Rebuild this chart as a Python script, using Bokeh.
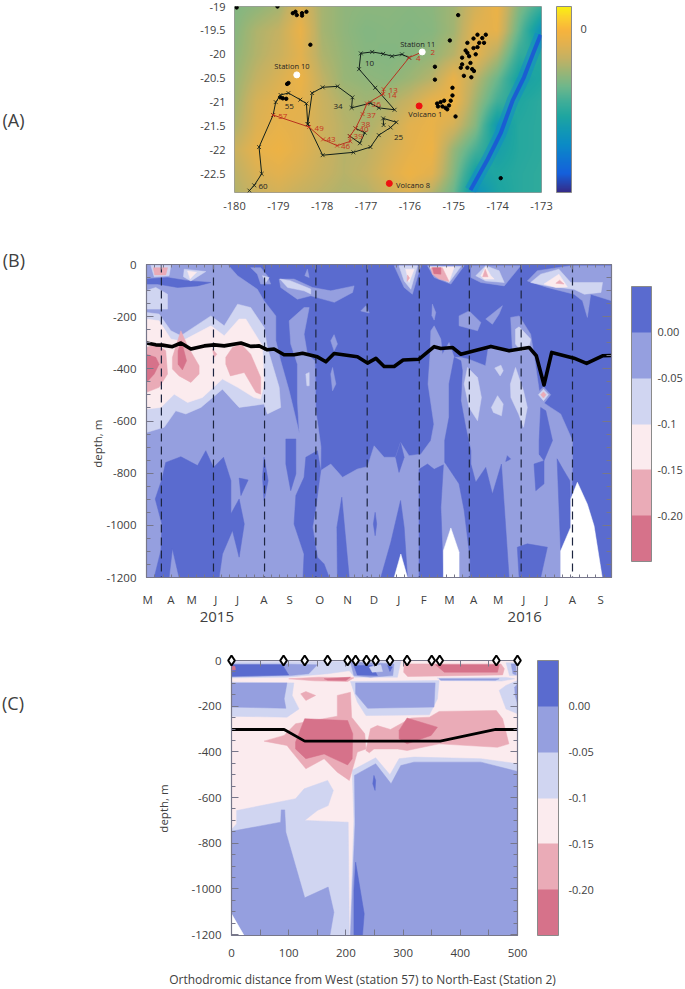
import numpy as np
from bokeh.core.properties import value
from bokeh.embed import file_html
from bokeh.resources import INLINE
from bokeh.layouts import column
from bokeh.models import (ColorBar, FixedTicker, LinearAxis, LinearColorMapper, Range1d)
from bokeh.plotting import figure

# ---------------- shared classes ----------------
BAND_COLORS = ["#D6728A", "#EAABB7", "#FBEBEE", "#D0D5F1", "#959FDF", "#5A6BCF"]
C_RED, C_PINK, C_PALE, C_LIGHT, C_MED, C_DARK = BAND_COLORS
BAND_TICKS = [-0.2, -0.15, -0.1, -0.05, 0.0]
BAND_LABELS = ["-0.20", "-0.15", "-0.1", "-0.05", "0.00"]

# ---------------- panel A data ----------------
A_LON = [-180, -179.5, -179, -178.5, -178, -177.5, -177, -176.5, -176, -175.5, -175, -174.5, -174, -173.5, -173]
A_LAT = [-19, -19.5, -20, -20.5, -21, -21.5, -22, -22.5, -22.9]
A_DEPTH = [
    [-3500, -3200, -2700, -1200, -2700, -3200, -3300, -3300, -3400, -3300, -2800, -1500, -600, -3500, -5200],
    [-3400, -2500, -2000, -700, -2700, -3200, -3500, -3400, -3500, -3400, -2800, -1000, -800, -4200, -7500],
    [-3200, -2400, -1800, -1000, -2500, -3100, -3400, -3500, -3400, -3100, -2300, -900, -2400, -5300, -6000],
    [-3000, -2000, -1300, -600, -2100, -3000, -3200, -3300, -2900, -2300, -700, -2200, -4000, -6500, -6000],
    [-2800, -1400, -900, -900, -1800, -2500, -2800, -2500, -1800, -700, -500, -2800, -5000, -6000, -5600],
    [-2500, -1200, -800, -1000, -1700, -2300, -2600, -2000, -1000, -700, -1500, -3400, -7000, -5800, -5600],
    [-1800, -800, -500, -1000, -1700, -2300, -2200, -1500, -900, -500, -3000, -4800, -6500, -5800, -5600],
    [-2200, -1300, -1000, -1400, -1900, -2300, -2000, -1200, -500, -1000, -3400, -6500, -6000, -5700, -5500],
    [-2400, -1800, -1500, -1900, -2200, -2500, -2400, -1700, -1200, -2300, -4000, -7500, -6200, -5700, -5500],
]
A_RAMP_LEVELS = [-11310, -10000, -9000, -8000, -7000, -6000, -5000, -4000, -3000, -2000, -1000, 0, 800, 1586]
A_RAMP_COLORS = ["#352A87", "#1560DC", "#0F75D2", "#0B8BC6", "#1298B4", "#1FA6A0", "#40AE98", "#6DB78C", "#98B577", "#C4B163",
                 "#E2B14F", "#F8B43C", "#FBCF2E", "#F9F011"]
TRENCH_LON = [-173.02, -173.17, -173.40, -173.66, -173.93, -174.23, -174.62]
TRENCH_LAT = [-19.59, -19.93, -20.48, -20.97, -21.65, -22.20, -22.84]
BLACK_LEGS = [
    [(-176.02, -20.07), (-176.18, -20.00), (-176.41, -20.04), (-176.61, -19.99), (-176.86, -19.95), (-177.12, -19.98),
     (-177.16, -20.31), (-176.79, -20.70), (-176.35, -21.16), (-176.71, -21.12), (-176.90, -21.02), (-177.33, -21.12),
     (-177.31, -20.90), (-177.65, -20.67), (-177.99, -20.69), (-178.23, -20.81), (-178.33, -21.46), (-177.99, -22.11),
     (-177.29, -22.05), (-176.90, -21.94), (-176.71, -21.69), (-176.44, -21.53), (-176.31, -21.42), (-176.61, -21.34),
     (-176.60, -21.48)],
    [(-178.33, -21.46), (-178.36, -21.03), (-178.50, -20.95), (-178.77, -20.81), (-178.95, -20.85), (-179.06, -21.00),
     (-179.12, -21.27), (-179.44, -21.94), (-179.38, -22.50), (-179.55, -22.74), (-179.66, -22.85)],
    [(-177.24, -21.55), (-177.03, -21.64), (-177.14, -21.86), (-177.37, -21.71)],
]
RED_LEG = [(-175.72, -19.95), (-176.02, -20.07), (-176.60, -20.73), (-176.61, -20.83), (-176.98, -21.03), (-177.08, -21.25),
           (-177.24, -21.55), (-177.37, -21.71), (-177.36, -21.82), (-177.66, -21.91), (-177.98, -21.78), (-178.30, -21.52),
           (-179.12, -21.27)]
BLACK_TAGS = [("10", -176.92, -20.20), ("34", -177.64, -21.10), ("55", -178.75, -21.09), ("25", -176.26, -21.74), ("60", -179.35, -22.77)]
RED_TAGS = [("2", -175.48, -19.96), ("4", -175.81, -20.09), ("13", -176.38, -20.75), ("14", -176.41, -20.86), ("36", -176.77, -21.05),
            ("37", -176.88, -21.29), ("38", -177.01, -21.46), ("40", -177.05, -21.57), ("39", -177.18, -21.72), ("43", -177.80, -21.79),
            ("46", -177.47, -21.93), ("49", -178.07, -21.55), ("57", -178.90, -21.31)]
SITE_TAGS = [("Station 11", -175.82, -19.78), ("Station 10", -178.69, -20.25), ("Volcano 1", -175.65, -21.24), ("Volcano 8", -175.93, -22.73)]
VOLCANO_LON, VOLCANO_LAT = [-175.79, -176.47], [-21.08, -22.70]
STATION_LON, STATION_LAT = [-178.58, -175.72], [-20.43, -19.95]
ISLANDS = [(-179.95, -19.02), (-179.02, -19.0), (-178.61, -19.11), (-178.67, -19.14), (-178.58, -19.18), (-178.46, -19.14), (-178.36, -19.11),
           (-178.46, -19.19), (-178.27, -19.80), (-174.90, -19.18), (-175.09, -19.71), (-175.43, -20.26), (-175.43, -20.53), (-178.77, -20.60),
           (-178.80, -20.62), (-178.96, -20.90), (-178.90, -20.92), (-178.82, -20.93), (-174.69, -19.76), (-174.55, -19.67), (-174.46, -19.59),
           (-174.35, -19.66), (-174.31, -19.76), (-174.42, -19.76), (-174.27, -19.59), (-174.73, -19.92), (-174.69, -19.97), (-174.65, -20.04),
           (-174.81, -20.07), (-174.55, -19.87), (-174.46, -19.85), (-174.81, -20.21), (-174.62, -20.18), (-174.69, -20.28), (-174.58, -20.31),
           (-174.84, -20.28), (-174.77, -20.45), (-174.60, -20.48), (-174.54, -20.35), (-174.50, -20.00), (-175.38, -21.03), (-175.30, -21.00),
           (-175.26, -21.09), (-175.19, -21.12), (-175.11, -21.07), (-175.22, -20.97), (-175.07, -20.97), (-175.03, -20.86), (-175.03, -20.70),
           (-174.96, -21.30), (-175.15, -21.15), (-175.36, -21.09), (-173.93, -22.59)]

# ---------------- panel B data: time in months from March 2015, depth in m ----------------
B_MONTH_POS = [0.05, 0.95, 1.76, 2.7, 3.55, 4.57, 5.58, 6.75, 7.84, 8.86, 9.83, 10.8, 11.8, 12.75, 13.7, 14.7, 15.6, 16.6, 17.7]
B_MONTH_LAB = ["M", "A", "M", "J", "J", "A", "S", "O", "N", "D", "J", "F", "M", "A", "M", "J", "J", "A", "S"]
B_DASHES = [0.58, 2.61, 4.6, 6.6, 8.6, 10.63, 12.58, 14.6, 16.6]
B_LINE_T = [0, .36, .62, 1.01, 1.34, 1.73, 2.25, 2.64, 3.03, 3.68, 4.06, 4.39, 4.71, 4.97, 5.36, 5.75, 6.08, 6.66, 6.99, 7.31, 8.22, 8.61, 8.94,
            9.26, 9.65, 10.0, 10.62, 11.21, 11.47, 11.92, 12.25, 13.42, 14.13, 14.91, 15.19, 15.49, 15.79, 16.66, 17.15, 17.77, 18.12]
B_LINE_D = [-301, -308, -309, -315, -301, -324, -312, -308, -312, -301, -314, -312, -327, -324, -346, -346, -340, -354, -373, -341, -354, -378, -360,
            -391, -391, -366, -363, -315, -322, -318, -344, -314, -331, -318, -350, -462, -337, -359, -379, -350, -349]
B_MED_MAIN = [[(0, 0), (3.16, 0), (3.55, -43), (4.32, -95), (4.58, -139), (5.04, -197), (5.04, -292), (5.23, -369), (5.56, -484), (5.95, -644),
               (5.88, -522), (5.88, -382), (5.62, -305), (5.56, -216), (6.14, -165), (6.34, -165), (6.14, -267), (6.27, -344), (6.56, -369),
               (6.6, -560), (6.8, -700), (6.79, -790), (7.18, -765), (7.64, -816), (8.22, -784), (8.61, -775), (8.87, -695), (9.26, -739),
               (9.71, -739), (9.9, -682), (10.23, -733), (10.69, -727), (11.08, -675), (11.2, -612), (10.97, -458), (11.05, -344), (11.08, -254),
               (11.21, -235), (11.47, -286), (11.53, -344), (11.79, -299), (11.99, -356), (12.23, -356), (12.56, -363), (13.21, -388), (13.31, -324),
               (13.55, -312), (14.26, -331), (14.19, -203), (14.52, -197), (14.97, -267), (15.1, -344), (15.23, -433), (15.36, -522), (15.75, -548),
               (16.14, -573), (16.6, -675), (16.6, -765), (16.57, -854), (16.14, -1200), (0, -1200)]]
B_DARK = [[(0, -56), (.82, -50), (1.6, -62), (2.51, -69), (1.99, -82), (1.21, -88), (.43, -75), (0, -75)],
          [(.34, -899), (.6, -823), (.75, -759), (1.34, -737), (1.99, -771), (2.31, -714), (2.61, -778), (3.0, -739), (3.29, -829), (3.29, -956),
           (3.61, -899), (3.81, -995), (3.61, -1122), (3.35, -1020), (2.96, -1110), (2.83, -1200), (1.27, -1200), (1.01, -1090), (.88, -1200),
           (.3, -1200), (.56, -1097), (.6, -995)],
          [(3.61, -819), (3.96, -826), (3.68, -886)],
          [(4.58, -739), (4.74, -829), (4.58, -905), (4.52, -816)],
          [(5.43, -669), (5.82, -669), (5.82, -803), (5.62, -867), (5.43, -765)],
          [(6.66, -714), (6.21, -739), (6.14, -816), (5.82, -886), (5.75, -995), (6.14, -1110), (6.1, -1200), (7.12, -1200), (6.92, -1148),
           (6.66, -1122), (6.47, -1007), (6.6, -931), (6.79, -790)],
          [(7.44, -1200), (7.42, -1007), (7.61, -892), (7.9, -1200)],
          [(8.91, -950), (8.97, -995), (8.91, -1040), (8.84, -995)],
          [(9.9, -905), (10.04, -1007), (10.17, -1200), (9.13, -1200), (9.52, -1065)],
          [(9.9, -682), (9.71, -739), (9.84, -797), (10.04, -739)],
          [(10.62, -785), (10.95, -765), (11.21, -785), (11.57, -768), (11.47, -931), (11.57, -1200), (10.62, -1200)],
          [(11.99, -356), (12.25, -369), (12.31, -407), (12.25, -522), (12.44, -624), (12.64, -714), (12.64, -765), (12.83, -835), (13.22, -778),
           (13.48, -880), (13.83, -765), (14.13, -1200), (12.61, -1200), (12.61, -1130), (12.38, -943), (12.18, -841), (11.62, -758), (11.62, -675),
           (11.79, -586), (11.79, -458)],
          [(14.45, -1084), (14.84, -1071), (15.62, -1084), (15.36, -1200), (14.52, -1200)],
          [(15.1, -765), (15.49, -752), (15.49, -841), (15.17, -867)],
          [(15.36, -548), (15.56, -561), (15.82, -675), (15.49, -752), (15.3, -727), (15.3, -675)],
          [(16.0, -745), (16.26, -790), (16.5, -829), (16.53, -1007), (16.14, -1097)],
          [(14.06, -733), (14.19, -746), (14.0, -755)]]
B_MED_BLOBS = [[(5.17, -56), (5.75, -56), (6.47, -88), (7.18, -101), (8.09, -82), (8.03, -107), (7.32, -145), (6.4, -120), (5.88, -133), (5.23, -88)],
               [(4.06, -12), (4.45, -12), (4.71, -43), (4.84, -75), (4.45, -75), (4.32, -37)],
               [(6.27, -18), (6.34, -50), (6.17, -43)],
               [(8.35, -178), (8.55, -158), (8.68, -186)],
               [(7.18, -292), (7.31, -269), (7.44, -305), (7.31, -331)],
               [(7.25, -395), (7.38, -458), (7.25, -484), (7.18, -420)],
               [(12.18, -197), (12.57, -178), (13.03, -222), (12.9, -254), (12.18, -235)],
               [(13.22, -209), (13.87, -158), (13.74, -190), (13.48, -229)],
               [(11.14, -152), (11.27, -184), (11.21, -213), (11.12, -196)],
               [(9.65, -5), (10.69, -5), (10.36, -114), (10.04, -88)],
               [(10.95, -5), (12.38, -5), (11.86, -75), (11.21, -50)],
               [(12.64, -5), (14.58, -5), (13.94, -82), (13.03, -69), (12.64, -50)],
               [(14.84, -63), (15.23, -24), (16.01, -12), (16.53, -5), (18.12, -5), (18.12, -139), (17.31, -114), (17.18, -203), (16.99, -139),
                (16.66, -114), (15.62, -88)],
               [(15.17, -499), (15.47, -469), (15.75, -499), (15.47, -535)]]
B_LIGHT = [[(0, -184), (.49, -190), (.95, -254), (1.34, -273), (2.51, -197), (3.03, -235), (3.55, -152), (4.06, -165), (4.58, -241), (4.71, -318),
            (5.17, -471), (5.23, -548), (4.71, -573), (4.58, -535), (3.61, -548), (2.96, -478), (2.12, -548), (1.53, -573), (1.14, -561), (.69, -624), (0, -644)],
           [(.36, -88), (.82, -114), (.82, -171), (.49, -171), (0, -171), (0, -100)],
           [(.17, -4), (.95, -4), (.88, -43), (.3, -47)],
           [(1.47, -18), (2.31, -27), (1.73, -63), (1.44, -47)],
           [(5.2, -56), (5.6, -62), (6.4, -94), (6.4, -113), (6.14, -101), (5.5, -88)],
           [(4.52, -43), (4.78, -50), (4.65, -69)],
           [(9.84, -5), (10.56, -5), (10.3, -95), (10.04, -63)],
           [(11.0, -8), (12.25, -8), (11.79, -69), (11.27, -43)],
           [(12.83, -43), (13.22, -5), (13.74, -24), (13.94, -69), (13.22, -63)],
           [(14.97, -69), (15.36, -37), (16.07, -18), (16.53, -69), (17.77, -69), (17.71, -107), (17.06, -114), (16.66, -95), (15.62, -82)],
           [(15.27, -499), (15.47, -478), (15.66, -499), (15.47, -522)],
           [(12.38, -458), (12.51, -395), (12.9, -433), (13.05, -510), (12.9, -599), (12.57, -548)],
           [(14.18, -458), (14.38, -395), (14.69, -484), (14.84, -548), (14.69, -624), (14.5, -573), (14.2, -510)],
           [(13.44, -548), (13.68, -503), (13.9, -535), (13.83, -580), (13.52, -567)],
           [(13.57, -397), (13.81, -386), (13.9, -407), (13.78, -427)],
           [(14.38, -248), (14.52, -239), (14.97, -286), (14.9, -324), (14.58, -331), (14.38, -305)],
           [(6.21, -420), (6.34, -414), (6.34, -465), (6.25, -465)]]
B_PALE = [[(0, -209), (.49, -216), (.95, -286), (1.27, -292), (1.53, -286), (2.51, -235), (3.03, -273), (3.61, -209), (3.87, -209), (4.52, -312),
           (4.58, -458), (4.45, -516), (4.19, -510), (3.55, -471), (2.96, -439), (2.18, -510), (1.6, -529), (1.08, -497), (.56, -548), (0, -554)],
          [(1.6, -25), (1.95, -30), (1.7, -55)],
          [(10.1, -18), (10.43, -18), (10.23, -69)],
          [(11.04, -10), (11.99, -10), (11.79, -65), (11.34, -38)],
          [(13.03, -43), (13.22, -9), (13.42, -43), (13.55, -56), (13.16, -56)],
          [(15.49, -75), (16.07, -37), (16.4, -86), (15.95, -88)]]
B_PINK = [[(0, -318), (.36, -305), (.75, -331), (.82, -420), (.49, -471), (0, -490)],
          [(1.01, -356), (1.34, -254), (1.6, -312), (2.05, -388), (2.05, -420), (1.73, -452), (1.27, -427), (1.01, -401)],
          [(3.09, -356), (3.35, -318), (3.68, -305), (4.06, -344), (4.45, -433), (4.45, -497), (4.26, -490), (3.81, -414), (3.27, -427), (3.09, -382)],
          [(2.57, -324), (2.74, -344), (2.64, -356)],
          [(.26, -12), (.82, -12), (.75, -40), (.32, -40)],
          [(10.17, -40), (10.25, -52), (10.15, -65)],
          [(11.08, -12), (11.53, -12), (11.79, -65), (11.4, -56), (11.14, -37)],
          [(13.1, -47), (13.2, -18), (13.31, -47)],
          [(15.95, -72), (16.1, -60), (16.27, -75)],
          [(15.36, -499), (15.47, -488), (15.57, -499), (15.47, -512)]]
B_RED = [[(0, -344), (.36, -356), (.49, -382), (.3, -420), (0, -452)],
         [(1.23, -331), (1.36, -292), (1.56, -369), (1.4, -404), (1.23, -382)],
         [(11.14, -12), (11.47, -12), (11.47, -37), (11.2, -35)]]
B_BLANK = [[(9.65, -1200), (9.91, -1110), (10.17, -1200)],
           [(11.57, -1097), (11.86, -1010), (12.18, -1103), (12.18, -1200), (11.57, -1200)],
           [(16.14, -1097), (16.53, -1007), (16.53, -899), (16.79, -835), (17.18, -919), (17.44, -1002), (17.76, -1200), (16.14, -1200)]]

# ---------------- panel C data: distance in km, depth in m ----------------
C_STATIONS = [0, 91, 128, 168, 203, 217, 236, 252, 277, 307, 350, 364, 463, 500]
C_LINE_X = [0, 92, 128, 365, 462, 500]
C_LINE_D = [-302, -302, -353, -353, -302, -302]
C_LIGHT_P = [[(0, -4), (208, -4), (208, -44), (168, -58), (97, -73), (0, -76)],
             [(206, -4), (296, -4), (290, -73), (215, -73), (206, -44)],
             [(480, -10), (498, -10), (498, -66), (486, -66)],
             [(360, -77), (480, -74), (495, -80), (472, -90), (366, -88)],
             [(0, -95), (109, -98), (106, -153), (118, -212), (97, -248), (0, -244)],
             [(208, -92), (363, -88), (360, -168), (346, -238), (235, -241), (220, -182)],
             [(480, -109), (500, -88), (500, -233), (480, -212), (468, -131)],
             [(211, -481), (252, -426), (277, -500), (293, -430), (319, -423), (436, -430), (500, -452), (500, -1204), (207, -1204), (214, -700)],
             [(9, -657), (112, -605), (127, -562), (168, -525), (178, -569), (169, -635), (150, -657), (128, -700), (204, -708), (206, -1204), (0, -1204), (0, -740), (9, -715)]]
C_MED_P = [[(0, -15), (86, -15), (150, -19), (135, -58), (103, -66), (0, -72)],
           [(208, -7), (284, -15), (282, -66), (243, -73), (214, -66)],
           [(489, -15), (497, -15), (498, -63), (492, -58)],
           [(363, -80), (468, -80), (462, -86), (366, -86)],
           [(0, -98), (97, -98), (92, -168), (95, -209), (0, -204)],
           [(217, -98), (356, -98), (354, -204), (238, -209), (217, -146)],
           [(495, -117), (500, -102), (500, -190), (496, -153)],
           [(215, -503), (252, -452), (279, -540), (296, -460), (319, -445), (436, -445), (500, -486), (500, -1204), (208, -1204), (216, -715)],
           [(0, -748), (86, -708), (87, -654), (93, -654), (95, -752), (128, -1039), (169, -992), (179, -1102), (172, -1204), (22, -1204), (0, -1109)]]
C_DARK_P = [[(0, -19), (89, -19), (100, -63), (0, -69)],
            [(214, -22), (246, -22), (255, -66), (220, -63)],
            [(273, -22), (281, -29), (277, -48)],
            [(217, -883), (232, -1109), (229, -1204), (214, -1204), (214, -1007)],
            [(249, -503), (252, -525), (251, -569), (247, -540)]]
C_LIGHT_TOP = [[(241, -29), (261, -19), (264, -48), (246, -51)]]
C_PINK_P = [[(302, -15), (471, -15), (477, -36), (474, -63), (308, -70), (301, -51)],
            [(100, -80), (153, -73), (214, -76), (203, -92), (144, -89)],
            [(57, -353), (92, -328), (112, -277), (185, -244), (185, -153), (208, -139), (210, -248), (233, -321), (235, -387), (220, -401),
             (206, -525), (185, -489), (162, -430), (130, -474), (106, -401), (97, -372)],
            [(121, -146), (130, -136), (147, -153), (130, -175)],
            [(235, -394), (243, -299), (255, -285), (278, -302), (314, -252), (346, -248), (363, -223), (463, -219), (474, -255), (485, -365),
             (465, -380), (363, -365), (307, -394), (290, -387), (249, -387), (241, -404)]]
C_RED_P = [[(357, -19), (468, -19), (465, -51), (372, -51)],
           [(162, -80), (208, -73), (200, -88), (168, -86)],
           [(112, -357), (128, -255), (203, -263), (212, -321), (211, -430), (203, -457), (173, -423), (162, -409), (130, -430), (112, -387)],
           [(293, -306), (307, -252), (360, -292), (349, -328), (307, -365), (293, -343)],
           [(1, -25), (6, -25), (7, -40), (1, -42)]]
C_BLANK = [[(0, -1109), (22, -1204), (0, -1204)]]

FONT = "Open Sans"
INK = "#404040"
EDGE = "#77778a"


def split(polys):
    return [[p[0] for p in poly] for poly in polys], [[p[1] for p in poly] for poly in polys]


def fill(fig, polys, color):
    xs, ys = split(polys)
    fig.patches(xs, ys, fill_color=color, line_color=color, line_width=0.5)


def note(fig, text, x, y, size, angle=0.0, color=INK):
    fig.text([x], [y], text=[text], text_font=value(FONT), text_font_size=value(size), text_color=color,
             text_align="center", text_baseline="middle", angle=angle, level="overlay")


def style_tick_axis(ax, major_in, minor_in):
    ax.axis_line_color = EDGE
    ax.axis_line_width = 1.2
    ax.major_tick_line_color = EDGE
    ax.minor_tick_line_color = EDGE
    ax.major_tick_in = major_in
    ax.major_tick_out = 0
    ax.minor_tick_in = minor_in
    ax.minor_tick_out = 0
    ax.major_label_text_font = FONT
    ax.major_label_text_font_size = "11.5px"
    ax.major_label_text_color = INK


def mute_labels(ax, ticks):
    ax.major_label_overrides = {t: "" for t in ticks}
    ax.major_label_standoff = 0


def plain_labels(ax, ticks):
    ax.major_label_overrides = {t: str(t) for t in ticks}


def band_bar(fig, dx, dy, w, h, standoff):
    mapper = LinearColorMapper(palette=BAND_COLORS, low=-0.25, high=0.05)
    bar = ColorBar(color_mapper=mapper, ticker=FixedTicker(ticks=BAND_TICKS),
                   major_label_overrides=dict(zip(BAND_TICKS, BAND_LABELS)),
                   location=(dx, dy), width=w, height=h, padding=0, margin=0, label_standoff=standoff,
                   bar_line_color="#8a8a8a", major_tick_line_color=None, minor_tick_line_color=None,
                   major_label_text_font=FONT, major_label_text_font_size="11px", major_label_text_color=INK,
                   background_fill_color=None, border_line_color=None)
    fig.add_layout(bar, "center")


# ---------------- panel A ----------------
pa = figure(width=685, height=235, frame_width=307, frame_height=186, min_border_left=234, min_border_right=144,
            min_border_top=6, min_border_bottom=43, x_range=Range1d(-180, -173), y_range=Range1d(-22.89, -19),
            output_backend="svg", toolbar_location=None, outline_line_color="#9a9a9a", frame_align=False)
pa.grid.visible = False
ramp_rgb = np.array([[int(c[i:i + 2], 16) for i in (1, 3, 5)] for c in A_RAMP_COLORS], float)
ramp = ["#%02x%02x%02x" % tuple(int(round(np.interp(q, A_RAMP_LEVELS, ramp_rgb[:, k]))) for k in range(3))
        for q in np.linspace(-11310, 1586, 256)]
depth_mapper = LinearColorMapper(palette=ramp, low=-11310, high=1586)
lat_up = np.array(A_LAT[::-1], float)
grid = np.array(A_DEPTH[::-1], float)
lon_fine = np.linspace(-180, -173, 307)
lat_fine = np.linspace(-22.89, -19, 187)
by_lat = np.array([np.interp(lat_fine, lat_up, grid[:, j]) for j in range(grid.shape[1])]).T
surface = np.array([np.interp(lon_fine, A_LON, row) for row in by_lat])
pa.image(image=[surface], x=-180, y=-22.89, dw=7, dh=3.89, color_mapper=depth_mapper)
pa.line(TRENCH_LON, TRENCH_LAT, line_color="#0f85d0", line_width=12, line_alpha=0.45)
pa.line(TRENCH_LON, TRENCH_LAT, line_color="#1c50d8", line_width=4, line_alpha=0.8)
pa.scatter([p[0] for p in ISLANDS], [p[1] for p in ISLANDS], size=3.4, color="black")
for leg in BLACK_LEGS:
    lx, ly = [p[0] for p in leg], [p[1] for p in leg]
    pa.line(lx, ly, line_color="#12201a", line_width=1)
    pa.scatter(lx, ly, marker="x", size=5.5, line_color="#12201a", line_width=0.8)
rx, ry = [p[0] for p in RED_LEG], [p[1] for p in RED_LEG]
pa.line(rx, ry, line_color="#b8321f", line_width=1)
pa.scatter(rx, ry, marker="x", size=5.5, line_color="#c8321f", line_width=0.8)
pa.scatter(VOLCANO_LON, VOLCANO_LAT, size=6, color="#ee1111")
pa.scatter(STATION_LON, STATION_LAT, size=6, color="white")
for tags, col, size in ((BLACK_TAGS, "#222222", "8px"), (RED_TAGS, "#c8321f", "8px"), (SITE_TAGS, "#222222", "7.5px")):
    pa.text([t[1] for t in tags], [t[2] for t in tags], text=[t[0] for t in tags], text_color=col, text_font_size=value(size),
            text_font=value(FONT), text_align="center", text_baseline="middle")
A_XT = list(range(-180, -172))
A_YT = [-19, -19.5, -20, -20.5, -21, -21.5, -22, -22.5]
pa.xaxis.ticker = FixedTicker(ticks=A_XT)
pa.yaxis.ticker = FixedTicker(ticks=A_YT)
plain_labels(pa.xaxis[0], A_XT)
plain_labels(pa.yaxis[0], A_YT)
for ax in (pa.xaxis[0], pa.yaxis[0]):
    ax.axis_line_color = None
    ax.major_tick_line_color = None
    ax.minor_tick_line_color = None
    ax.major_label_text_font = FONT
    ax.major_label_text_font_size = "11px"
    ax.major_label_text_color = INK
    ax.major_label_standoff = 3
A_BAR_T = [0, -2000, -4000, -6000, -8000, -10000]
pa.add_layout(ColorBar(color_mapper=depth_mapper, ticker=FixedTicker(ticks=A_BAR_T),
                       major_label_overrides={t: str(t) for t in A_BAR_T},
                       location=(322, 0), width=15, height=186, padding=0, margin=0, label_standoff=9,
                       bar_line_color="#8a8a8a", major_tick_line_color=None, minor_tick_line_color=None,
                       major_label_text_font=FONT, major_label_text_font_size="11px", major_label_text_color=INK,
                       background_fill_color=None, border_line_color=None), "center")
note(pa, "(A)", -185.04, -21.37, "18px")

# ---------------- panel B ----------------
pb = figure(width=685, height=405, frame_width=465, frame_height=313, min_border_left=146, min_border_right=74,
            min_border_top=29, min_border_bottom=63, x_range=Range1d(0, 18.12), y_range=Range1d(-1200, 0),
            output_backend="svg", toolbar_location=None, outline_line_color=EDGE, background_fill_color=C_DARK, frame_align=False)
pb.grid.visible = False
fill(pb, B_MED_MAIN, C_MED)
fill(pb, B_DARK, C_DARK)
fill(pb, B_MED_BLOBS, C_MED)
fill(pb, B_LIGHT, C_LIGHT)
fill(pb, B_PALE, C_PALE)
fill(pb, B_PINK, C_PINK)
fill(pb, B_RED, C_RED)
fill(pb, B_BLANK, "white")
pb.segment(B_DASHES, [0] * len(B_DASHES), B_DASHES, [-1200] * len(B_DASHES), line_color="#1d2540", line_width=1.2, line_dash="8 5")
pb.line(B_LINE_T, B_LINE_D, line_color="black", line_width=3.6, line_join="round")
week_ticks = [k * 0.3243 for k in range(56)]
DEPTH_T = list(range(-1200, 1, 200))
DEPTH_M = list(range(-1200, 1, 50))
pb.xaxis.ticker = FixedTicker(ticks=B_MONTH_POS, minor_ticks=week_ticks)
pb.xaxis.major_label_overrides = dict(zip(B_MONTH_POS, B_MONTH_LAB))
pb.yaxis.ticker = FixedTicker(ticks=DEPTH_T, minor_ticks=DEPTH_M)
plain_labels(pb.yaxis[0], DEPTH_T)
style_tick_axis(pb.xaxis[0], 0, 3)
pb.xaxis.major_tick_line_color = None
pb.xaxis.major_label_standoff = 14
style_tick_axis(pb.yaxis[0], 7, 4)
pb.yaxis.major_label_standoff = 10
top_b = LinearAxis(ticker=FixedTicker(ticks=B_DASHES, minor_ticks=week_ticks))
style_tick_axis(top_b, 5, 3)
mute_labels(top_b, B_DASHES)
pb.add_layout(top_b, "above")
right_b = LinearAxis(ticker=FixedTicker(ticks=DEPTH_T, minor_ticks=DEPTH_M))
style_tick_axis(right_b, 9, 5)
mute_labels(right_b, DEPTH_T)
pb.add_layout(right_b, "right")
band_bar(pb, 485, 16, 20, 275, 6)
note(pb, "(B)", -5.17, 18, "18px")
note(pb, "depth, m", -1.9, -687, "11.5px", angle=np.pi / 2)
note(pb, "2015", 2.74, -1353, "15px")
note(pb, "2016", 14.74, -1353, "15px")

# ---------------- panel C ----------------
pc = figure(width=685, height=349, frame_width=286, frame_height=275, min_border_left=231, min_border_right=168,
            min_border_top=20, min_border_bottom=54, x_range=Range1d(0, 500), y_range=Range1d(-1204, 0),
            output_backend="svg", toolbar_location=None, outline_line_color=EDGE, background_fill_color=C_PALE, frame_align=False)
pc.grid.visible = False
fill(pc, C_LIGHT_P, C_LIGHT)
fill(pc, C_MED_P, C_MED)
fill(pc, C_DARK_P, C_DARK)
fill(pc, C_LIGHT_TOP, C_LIGHT)
fill(pc, C_PINK_P, C_PINK)
fill(pc, C_RED_P, C_RED)
fill(pc, C_BLANK, "white")
pc.line(C_LINE_X, C_LINE_D, line_color="black", line_width=2.8)
pc.scatter(C_STATIONS, [0] * len(C_STATIONS), marker="diamond", size=10, fill_color="white", line_color="black", line_width=2, level="overlay")
DIST_T = list(range(0, 501, 100))
DIST_M = list(range(50, 500, 100))
pc.xaxis.ticker = FixedTicker(ticks=DIST_T, minor_ticks=DIST_M)
pc.yaxis.ticker = FixedTicker(ticks=DEPTH_T, minor_ticks=DEPTH_M)
plain_labels(pc.yaxis[0], DEPTH_T)
style_tick_axis(pc.xaxis[0], 6, 6)
pc.xaxis.major_label_standoff = 13
style_tick_axis(pc.yaxis[0], 7, 4)
pc.yaxis.major_label_standoff = 10
top_c = LinearAxis(ticker=FixedTicker(ticks=DIST_T, minor_ticks=DIST_M))
style_tick_axis(top_c, 6, 6)
mute_labels(top_c, DIST_T)
pc.add_layout(top_c, "above")
right_c = LinearAxis(ticker=FixedTicker(ticks=DEPTH_T, minor_ticks=DEPTH_M))
style_tick_axis(right_c, 7, 4)
mute_labels(right_c, DEPTH_T)
pc.add_layout(right_c, "right")
band_bar(pc, 306, 0, 21, 275, 10)
note(pc, "(C)", -382, -188, "18px")
note(pc, "depth, m", -119, -648, "11.5px", angle=np.pi / 2)
note(pc, "Orthodromic distance from West (station 57) to North-East (Station 2)", 229, -1396, "12px")

root = column(pa, pb, pc, spacing=0, margin=0)
open("out.html", "w").write(file_html(root, INLINE))
